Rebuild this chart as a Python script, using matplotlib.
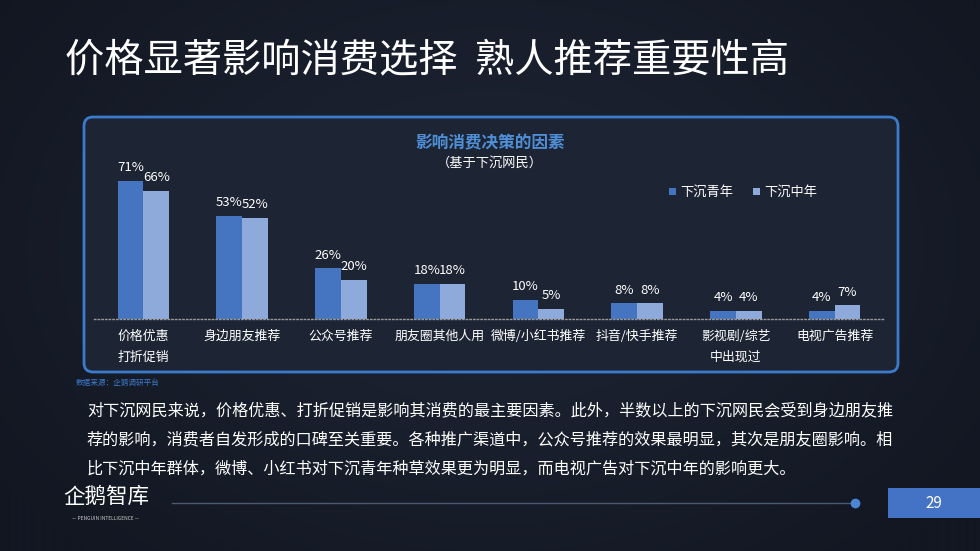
import numpy as np
import matplotlib
matplotlib.use("Agg")
import matplotlib.pyplot as plt
from matplotlib.patches import FancyBboxPatch, Rectangle

plt.rcParams['font.family'] = ['Noto Sans CJK SC', 'DejaVu Sans']

categories = ["价格优惠\n打折促销", "身边朋友推荐", "公众号推荐", "朋友圈其他人用",
              "微博/小红书推荐", "抖音/快手推荐", "影视剧/综艺\n中出现过", "电视广告推荐"]
young = [71, 53, 26, 18, 10, 8, 4, 4]
middle = [66, 52, 20, 18, 5, 8, 4, 7]
series_names = ["下沉青年", "下沉中年"]

W, H = 980, 551
fig = plt.figure(figsize=(W / 100, H / 100), dpi=100)

def fx(x):
    return x / W

def fy(y):
    return 1 - y / H

# background with vignette
bg = fig.add_axes([0, 0, 1, 1])
yy, xx = np.mgrid[0:H, 0:W]
r = np.sqrt(((xx - W * 0.5) / (W * 0.6)) ** 2 + ((yy - H * 0.45) / (H * 0.75)) ** 2)
t = np.clip(r, 0, 1)
c_in = np.array([0x1f, 0x26, 0x35]) / 255
c_out = np.array([0x12, 0x17, 0x22]) / 255
img = c_in[None, None, :] * (1 - t[..., None]) + c_out[None, None, :] * t[..., None]
bg.imshow(img, extent=[0, W, H, 0], aspect='auto')
bg.set_xlim(0, W)
bg.set_ylim(H, 0)
bg.axis('off')

# title
bg.text(65, 60, "价格显著影响消费选择  熟人推荐重要性高", color='white', fontsize=28.3,
        va='center', ha='left')

# rounded box
box = FancyBboxPatch((84, 117), 814, 255, boxstyle="round,pad=0,rounding_size=9",
                     facecolor='#1d2433', edgecolor='#3b7bcb', linewidth=2)
bg.add_patch(box)

# chart title
bg.text(490, 143, "影响消费决策的因素", color='#4f8fd8', fontsize=12, fontweight='bold',
        ha='center', va='center')
bg.text(490, 163, "（基于下沉网民）", color='white', fontsize=9.5, ha='center', va='center')

# legend
bg.add_patch(Rectangle((669, 188), 7, 7, facecolor='#4575c0'))
bg.text(680, 192, series_names[0], color='white', fontsize=9.5, va='center', ha='left')
bg.add_patch(Rectangle((753, 188), 7, 7, facecolor='#8eaadb'))
bg.text(764, 192, series_names[1], color='white', fontsize=9.5, va='center', ha='left')

# source
bg.text(76, 383, "数据来源：企鹅调研平台", color='#3b7bcb', fontsize=5.5, va='center', ha='left')

# paragraph
para = ["对下沉网民来说，价格优惠、打折促销是影响其消费的最主要因素。此外，半数以上的下沉网民会受到身边朋友推",
        "荐的影响，消费者自发形成的口碑至关重要。各种推广渠道中，公众号推荐的效果最明显，其次是朋友圈影响。相",
        "比下沉中年群体，微博、小红书对下沉青年种草效果更为明显，而电视广告对下沉中年的影响更大。"]
for i, line in enumerate(para):
    bg.text(87, 411 + i * 29, line, color='white', fontsize=11.6, va='center', ha='left')

# footer
bg.text(63, 497, "企鹅智库", color='white', fontsize=15.5, va='center', ha='left')
bg.text(106, 519, "— PENGUIN INTELLIGENCE —", color='#cccccc', fontsize=3.5, va='center', ha='center')
bg.plot([172, 855], [503, 503], color='#4a5a70', lw=1)
bg.plot([855], [503], 'o', color='#4a86d4', ms=6)
bg.add_patch(Rectangle((888, 488), 92, 30, facecolor='#4472c4'))
bg.text(934, 503, "29", color='white', fontsize=11, va='center', ha='center')

# bar chart
left, right = 94, 884
bottom, top = 319, 130
ax = fig.add_axes([fx(left), fy(bottom), fx(right - left), (bottom - top) / H])
ax.patch.set_alpha(0)
n = len(categories)
x = np.arange(n)
bw = 0.26
ymax = (bottom - top) / 1.944
ax.bar(x - bw / 2, young, bw, color='#4575c0')
ax.bar(x + bw / 2, middle, bw, color='#8eaadb')
ax.set_xlim(-0.5, n - 0.5)
ax.set_ylim(0, ymax)
for xi, v in zip(x, young):
    ax.text(xi - bw / 2, v + 3.5, f"{v}%", color='white', fontsize=9.5, ha='center', va='bottom')
for xi, v in zip(x, middle):
    ax.text(xi + bw / 2, v + 3.5, f"{v}%", color='white', fontsize=9.5, ha='center', va='bottom')
for s in ['top', 'right', 'left']:
    ax.spines[s].set_visible(False)
ax.spines['bottom'].set_color('#9a9a9a')
ax.spines['bottom'].set_linestyle(':')
ax.spines['bottom'].set_linewidth(1)
ax.set_yticks([])
ax.set_xticks(x)
ax.set_xticklabels(categories, color='white', fontsize=9.3, linespacing=1.8, va='top')
ax.tick_params(axis='x', length=0, pad=8)

fig.savefig("out.png", dpi=100, facecolor=fig.get_facecolor())
